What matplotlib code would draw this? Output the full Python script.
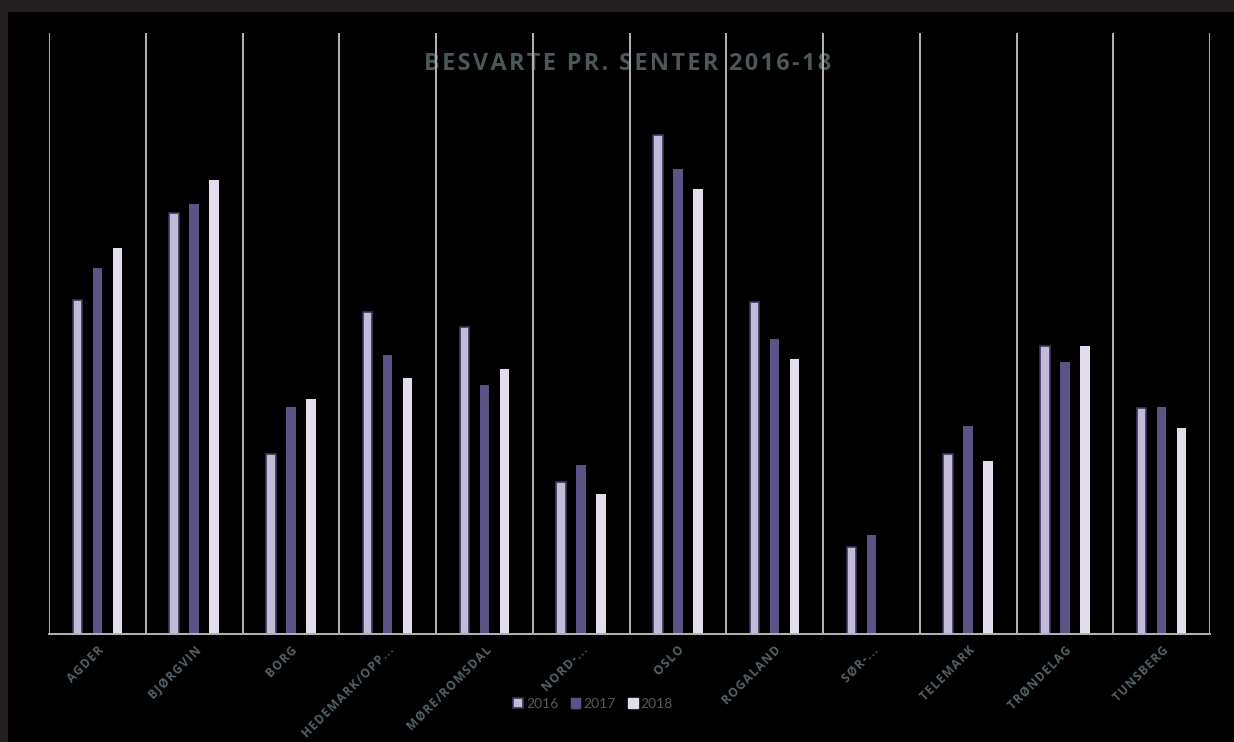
import matplotlib
matplotlib.use("Agg")
import matplotlib.pyplot as plt
from matplotlib.patches import Rectangle, Patch
import numpy as np

categories = ["AGDER", "BJØRGVIN", "BORG", "HEDEMARK/OPP…", "MØRE/ROMSDAL", "NORD-…",
              "OSLO", "ROGALAND", "SØR-…", "TELEMARK", "TRØNDELAG", "TUNSBERG"]
years = ["2016", "2017", "2018"]
v2016 = [334, 421, 180, 322, 307, 152, 499, 332, 87, 180, 288, 226]
v2017 = [366, 430, 227, 279, 249, 169, 465, 295, 99, 208, 272, 227]
v2018 = [386, 454, 235, 256, 265, 140, 445, 275, 0, 173, 288, 206]
title = "BESVARTE PR. SENTER 2016-18"

colors = ["#c3bad8", "#5c5285", "#e3ddeb"]
edges = ["#3b3560", "#5c5285", "#e3ddeb"]
lws = [1.2, 0, 0]


def spaced(s, sep="\u200a"):
    return sep.join(s)


W, H = 1234, 742
fig = plt.figure(figsize=(W / 100, H / 100), dpi=100)
fig.patch.set_facecolor("#231f20")
fig.patches.append(Rectangle((8 / W, 0), 1 - 8 / W, (H - 12) / H, transform=fig.transFigure,
                             facecolor="black", edgecolor="none", zorder=-10))

ax = fig.add_axes([49 / W, (H - 634) / H, (1210 - 49) / W, (634 - 33) / H])
ax.set_facecolor("none")
x = np.arange(len(categories))
width = 0.098
offsets = [-0.206, 0.0, 0.207]
for vals, off, c, e, lw in zip([v2016, v2017, v2018], offsets, colors, edges, lws):
    ax.bar(x + off, vals, width=width, color=c, edgecolor=e, linewidth=lw, zorder=3)

for b in np.arange(len(categories) + 1) - 0.5:
    ax.axvline(b, color="#b5b5b5", lw=1.4, zorder=2)
ax.set_xlim(-0.5, len(categories) - 0.5)
ax.set_ylim(0, 601)
for s in ["top", "left", "right"]:
    ax.spines[s].set_visible(False)
ax.spines["bottom"].set_color("#b5b5b5")
ax.spines["bottom"].set_linewidth(1.4)
ax.spines["bottom"].set_zorder(4)
ax.set_yticks([])
ax.set_xticks(x)
labels = [spaced(c) for c in categories]
labels = [l.replace("\u200a…", "\u200a.\u200a.\u200a.") for l in labels]
ax.set_xticklabels(labels, rotation=45, ha="right",
                   rotation_mode="anchor", fontsize=8.6, fontweight="bold", color="#56626a",
                   family=["Open Sans", "DejaVu Sans"])
ax.tick_params(axis="x", length=0, pad=7)

ax.text(628 / W, (H - 64) / H, spaced(title), transform=fig.transFigure, ha="center",
        va="center", fontsize=16.8, fontweight="bold", color="#4c575b",
        family=["Open Sans", "DejaVu Sans"], zorder=1, clip_on=False)

handles = [Patch(facecolor=colors[0], edgecolor=edges[0], linewidth=1.2),
           Patch(facecolor=colors[1], edgecolor=colors[1]),
           Patch(facecolor=colors[2], edgecolor=colors[2])]
leg = fig.legend(handles, years, loc="center", bbox_to_anchor=(593 / W, (H - 704) / H), ncol=3,
                 frameon=False, fontsize=10, handlelength=0.7, handleheight=0.7,
                 handletextpad=0.2, columnspacing=0.9, labelcolor="#595959")
for t in leg.get_texts():
    t.set_family("Lato")

fig.savefig("out.png", dpi=100, facecolor=fig.get_facecolor())
